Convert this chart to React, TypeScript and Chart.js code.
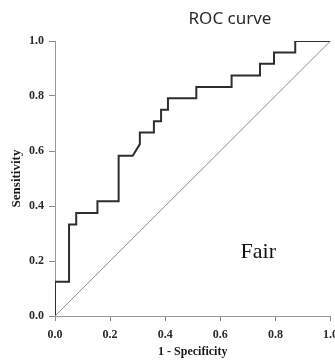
import React, { useEffect, useRef } from "react";
import { Chart, registerables } from "chart.js";

Chart.register(...registerables);

// ROC curve vertices (1 - specificity, sensitivity)
const fprValues = [0, 0, 0.051, 0.051, 0.077, 0.077, 0.154, 0.154, 0.231, 0.231, 0.282, 0.308, 0.308, 0.359, 0.359, 0.385, 0.385, 0.41, 0.41, 0.513, 0.513, 0.641, 0.641, 0.744, 0.744, 0.795, 0.795, 0.872, 0.872, 1];
const tprValues = [0, 0.125, 0.125, 0.333, 0.333, 0.375, 0.375, 0.417, 0.417, 0.583, 0.583, 0.625, 0.667, 0.667, 0.708, 0.708, 0.75, 0.75, 0.792, 0.792, 0.833, 0.833, 0.875, 0.875, 0.917, 0.917, 0.958, 0.958, 1, 1];
const diagonalX = [0, 1];
const diagonalY = [0, 1];
const tickValues = [0, 0.2, 0.4, 0.6, 0.8, 1.0];
const chartTitle = "ROC curve";
const xTitle = "1 - Specificity";
const yTitle = "Sensitivity";
const noteText = "Fair";
const notePos = [0.738, 0.211];

const textPlugin = {
  id: "texts",
  afterDraw(chart: any) {
    const { ctx } = chart;
    const x = chart.scales.x;
    const y = chart.scales.y;
    ctx.save();
    ctx.fillStyle = "#2a2a2a";
    ctx.textAlign = "center";
    ctx.textBaseline = "alphabetic";
    ctx.font = '17px "Noto Sans"';
    ctx.fillText(chartTitle, 230, 24);
    ctx.fillStyle = "#111";
    ctx.font = '22px "Liberation Serif"';
    ctx.fillText(noteText, x.getPixelForValue(notePos[0]), y.getPixelForValue(notePos[1]));
    ctx.restore();
  },
};

export default function App() {
  const ref = useRef<HTMLCanvasElement | null>(null);
  useEffect(() => {
    if (!ref.current) return;
    const curve = fprValues.map((v, i) => ({ x: v, y: tprValues[i] }));
    const diag = diagonalX.map((v, i) => ({ x: v, y: diagonalY[i] }));
    const tickFont = { family: '"Liberation Serif"', size: 12, weight: "bold" as const };
    const chart = new Chart(ref.current, {
      type: "scatter",
      data: {
        datasets: [
          {
            data: diag,
            showLine: true,
            borderColor: "#8a8a8a",
            borderWidth: 1,
            pointRadius: 0,
          },
          {
            data: curve,
            showLine: true,
            borderColor: "#2e2e2e",
            borderWidth: 2,
            pointRadius: 0,
            tension: 0,
          },
        ],
      },
      options: {
        animation: false,
        responsive: false,
        layout: { padding: { top: 41, left: 0, right: 0, bottom: 0 } },
        plugins: { legend: { display: false }, tooltip: { enabled: false }, title: { display: false } },
        scales: {
          x: {
            type: "linear",
            min: 0,
            max: 1,
            afterBuildTicks: (s: any) => {
              s.ticks = tickValues.map((v) => ({ value: v }));
            },
            afterFit: (s: any) => {
              s.height = 45;
            },
            ticks: {
              font: tickFont,
              color: "#2a2a2a",
              padding: 7,
              callback: (v: any) => Number(v).toFixed(1),
              maxRotation: 0,
            },
            grid: { display: true, drawOnChartArea: false, drawTicks: true, tickLength: 5, color: "#888" },
            border: { display: true, color: "#999", width: 1 },
            title: {
              display: true,
              text: xTitle,
              font: { family: '"Liberation Serif"', size: 12, weight: "bold" },
              color: "#1a1a1a",
              padding: { top: 0, bottom: 2 },
            },
          },
          y: {
            type: "linear",
            min: 0,
            max: 1,
            afterBuildTicks: (s: any) => {
              s.ticks = tickValues.map((v) => ({ value: v }));
            },
            afterFit: (s: any) => {
              s.width = 55;
            },
            ticks: {
              font: tickFont,
              color: "#2a2a2a",
              padding: 5,
              callback: (v: any) => Number(v).toFixed(1),
            },
            grid: { display: true, drawOnChartArea: false, drawTicks: true, tickLength: 6, color: "#888" },
            border: { display: true, color: "#999", width: 1 },
            title: {
              display: true,
              text: yTitle,
              font: { family: '"Liberation Serif"', size: 13, weight: "bold" },
              color: "#1a1a1a",
              padding: { top: 9, bottom: 0 },
            },
          },
        },
      },
      plugins: [textPlugin],
    });
    return () => chart.destroy();
  }, []);
  return (
    <div style={{ position: "absolute", left: 0, top: 0, width: 335, height: 361, overflow: "hidden", background: "#fff" }}>
      <canvas ref={ref} width={345} height={361} style={{ display: "block" }} />
    </div>
  );
}
